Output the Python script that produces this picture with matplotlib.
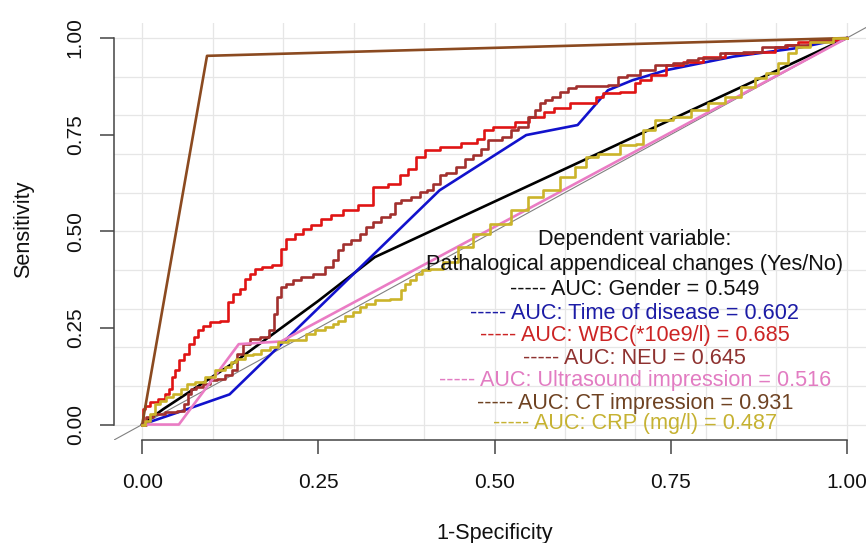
import matplotlib
matplotlib.use('Agg')
import matplotlib.pyplot as plt
import numpy as np

plt.rcParams['font.family'] = ['Liberation Sans', 'DejaVu Sans']

# ROC curves (1-specificity, sensitivity)
gender_fpr = [0, 0.03, 0.13, 0.25, 0.33, 1.0]
gender_tpr = [0, 0.04, 0.16, 0.32, 0.433, 1.0]

time_fpr = [0, 0.058, 0.124, 0.422, 0.545, 0.618, 0.661, 0.696, 0.744, 0.839, 0.929, 1.0]
time_tpr = [0, 0.036, 0.078, 0.606, 0.749, 0.775, 0.865, 0.891, 0.917, 0.952, 0.974, 1.0]

wbc_fpr = [0, 0.001, 0.008, 0.015, 0.030, 0.034, 0.041, 0.044, 0.049, 0.056,
           0.063, 0.070, 0.077, 0.082, 0.091, 0.101, 0.119, 0.124, 0.134, 0.143,
           0.150, 0.157, 0.164, 0.176, 0.193, 0.200, 0.209, 0.224, 0.233, 0.247,
           0.261, 0.276, 0.295, 0.318, 0.337, 0.361, 0.370, 0.384, 0.394, 0.408,
           0.436, 0.470, 0.481, 0.489, 0.507, 0.526, 0.533, 0.564, 0.576, 0.593,
           0.621, 0.638, 0.649, 0.659, 0.697, 0.701, 0.713, 0.730, 0.758, 0.777,
           0.815, 0.839, 0.895, 0.900, 0.929, 0.933, 0.976, 1.0]
wbc_tpr = [0, 0.040, 0.049, 0.058, 0.067, 0.079, 0.092, 0.123, 0.140, 0.166,
           0.183, 0.209, 0.226, 0.244, 0.256, 0.265, 0.269, 0.317, 0.339, 0.351,
           0.377, 0.390, 0.403, 0.408, 0.412, 0.455, 0.481, 0.494, 0.507, 0.516,
           0.533, 0.541, 0.554, 0.567, 0.615, 0.623, 0.645, 0.662, 0.693, 0.710,
           0.718, 0.728, 0.740, 0.762, 0.770, 0.770, 0.783, 0.796, 0.809, 0.818,
           0.831, 0.831, 0.848, 0.857, 0.861, 0.883, 0.891, 0.904, 0.930, 0.939,
           0.952, 0.961, 0.965, 0.978, 0.982, 0.991, 0.995, 1.0]

neu_fpr = [0, 0.011, 0.020, 0.044, 0.056, 0.063, 0.067, 0.072, 0.082, 0.091,
           0.101, 0.110, 0.124, 0.131, 0.138, 0.148, 0.157, 0.176, 0.183, 0.190,
           0.193, 0.200, 0.209, 0.219, 0.233, 0.252, 0.266, 0.276, 0.280, 0.290,
           0.304, 0.313, 0.323, 0.332, 0.347, 0.356, 0.361, 0.375, 0.389, 0.399,
           0.408, 0.418, 0.427, 0.436, 0.455, 0.460, 0.479, 0.484, 0.498, 0.522,
           0.526, 0.541, 0.555, 0.559, 0.569, 0.574, 0.588, 0.597, 0.611, 0.621,
           0.649, 0.673, 0.678, 0.697, 0.716, 0.739, 0.768, 0.777, 0.801, 0.839,
           0.867, 0.891, 0.933, 0.962, 1.0]
neu_tpr = [0, 0.019, 0.028, 0.032, 0.036, 0.054, 0.079, 0.092, 0.097, 0.105,
           0.114, 0.118, 0.127, 0.140, 0.183, 0.209, 0.222, 0.226, 0.244, 0.287,
           0.330, 0.356, 0.364, 0.373, 0.382, 0.390, 0.408, 0.425, 0.451, 0.468,
           0.477, 0.494, 0.511, 0.524, 0.537, 0.546, 0.572, 0.580, 0.589, 0.602,
           0.606, 0.623, 0.645, 0.652, 0.667, 0.688, 0.697, 0.714, 0.736, 0.744,
           0.762, 0.770, 0.796, 0.813, 0.831, 0.839, 0.848, 0.861, 0.870, 0.876,
           0.876, 0.878, 0.900, 0.904, 0.917, 0.930, 0.935, 0.943, 0.948, 0.961,
           0.965, 0.978, 0.982, 0.995, 1.0]

us_fpr = [0, 0.052, 0.137, 0.197, 1.0]
us_tpr = [0, 0.0, 0.208, 0.215, 1.0]

ct_fpr = [0, 0.092, 1.0]
ct_tpr = [0, 0.954, 1.0]

crp_fpr = [0, 0.008, 0.015, 0.020, 0.030, 0.039, 0.049, 0.060, 0.067, 0.082,
           0.096, 0.110, 0.124, 0.129, 0.138, 0.153, 0.162, 0.176, 0.186, 0.200,
           0.214, 0.228, 0.238, 0.252, 0.266, 0.276, 0.280, 0.295, 0.304, 0.313,
           0.323, 0.337, 0.365, 0.370, 0.375, 0.384, 0.394, 0.399, 0.418, 0.436,
           0.460, 0.479, 0.507, 0.541, 0.555, 0.583, 0.602, 0.626, 0.635, 0.659,
           0.697, 0.706, 0.716, 0.739, 0.768, 0.791, 0.815, 0.839, 0.862, 0.877,
           0.895, 0.910, 0.924, 0.933, 0.962, 1.0]
crp_tpr = [0, 0.010, 0.028, 0.054, 0.062, 0.071, 0.079, 0.092, 0.105, 0.110,
           0.123, 0.140, 0.149, 0.162, 0.170, 0.179, 0.183, 0.192, 0.200, 0.213,
           0.218, 0.218, 0.235, 0.244, 0.252, 0.261, 0.269, 0.282, 0.291, 0.304,
           0.313, 0.321, 0.326, 0.347, 0.364, 0.373, 0.390, 0.399, 0.403, 0.420,
           0.460, 0.494, 0.520, 0.554, 0.589, 0.606, 0.641, 0.667, 0.692, 0.701,
           0.723, 0.727, 0.762, 0.788, 0.796, 0.813, 0.831, 0.848, 0.874, 0.896,
           0.909, 0.935, 0.961, 0.978, 0.991, 1.0]

names = ['Gender', 'Time of disease', 'WBC(*10e9/l)', 'NEU',
         'Ultrasound impression', 'CT impression', 'CRP (mg/l)']
aucs = [0.549, 0.602, 0.685, 0.645, 0.516, 0.931, 0.487]
curves = [(gender_fpr, gender_tpr), (time_fpr, time_tpr), (wbc_fpr, wbc_tpr),
          (neu_fpr, neu_tpr), (us_fpr, us_tpr), (ct_fpr, ct_tpr), (crp_fpr, crp_tpr)]
# the many-threshold curves are drawn as staircases
stepped = [False, False, True, True, False, False, True]

line_colors = ['#000000', '#1212cc', '#e01414', '#a2302e', '#ea7cc4', '#8b4a20', '#cbb42a']
text_colors = ['#111111', '#1c1ca6', '#cc2424', '#8e3230', '#e27cc2', '#6e4222', '#c6b232']

tick_vals = [0, 0.25, 0.5, 0.75, 1.0]
tick_labels = ['0.00', '0.25', '0.50', '0.75', '1.00']

W, H = 866, 543
fig = plt.figure(figsize=(W / 100, H / 100), dpi=100)
ax = fig.add_axes([114 / W, 103 / H, 761 / W, 417.4 / H])
ax.set_xlim(-0.04, 1.04)
ax.set_ylim(-0.04, 1.04)

# light grid every 0.1
for g in np.arange(0, 1.01, 0.1):
    ax.axvline(g, color='#e6e6e6', lw=0.9, zorder=0)
    ax.axhline(g, color='#e6e6e6', lw=0.9, zorder=0)

ax.axline((0, 0), (1, 1), color='#808080', lw=0.8, zorder=1)

for (fx, fy), c, st in zip(curves, line_colors, stepped):
    ax.plot(fx, fy, color=c, lw=1.9, zorder=2,
            drawstyle='steps-mid' if st else 'default')

# legend as centered text lines
legend_x = 0.699
legend_y = [0.479, 0.415, 0.350, 0.288, 0.231, 0.171, 0.114, 0.054, 0.003]
ax.text(legend_x, legend_y[0], 'Dependent variable:', ha='center', va='center',
        fontsize=15.6, color='#111111', zorder=3)
ax.text(legend_x, legend_y[1], 'Pathalogical appendiceal changes (Yes/No)',
        ha='center', va='center', fontsize=15.6, color='#111111', zorder=3)
for i, (n, a) in enumerate(zip(names, aucs)):
    ax.text(legend_x, legend_y[i + 2], '----- AUC: {} = {:.3f}'.format(n, a),
            ha='center', va='center', fontsize=15.6, color=text_colors[i], zorder=3)

# R style axes
for s in ['top', 'right']:
    ax.spines[s].set_visible(False)
for s in ['left', 'bottom']:
    ax.spines[s].set_bounds(0, 1)
    ax.spines[s].set_color('#444444')
    ax.spines[s].set_linewidth(1.1)

ax.set_xticks(tick_vals)
ax.set_xticklabels(tick_labels)
ax.set_yticks(tick_vals)
ax.set_yticklabels(tick_labels, rotation=90, va='center')
ax.tick_params(length=10, width=1.1, color='#444444', labelsize=15, labelcolor='#111111')
ax.tick_params(axis='x', pad=14)
ax.tick_params(axis='y', pad=11)

fig.text(494.7 / W, 1 - 538.5 / H, '1-Specificity', ha='center', va='baseline',
         fontsize=15.6, color='#111111')
fig.text(29.5 / W, 1 - 229 / H, 'Sensitivity', rotation=90, rotation_mode='anchor',
         ha='center', va='baseline', fontsize=15.6, color='#111111')

fig.savefig('out.png', dpi=100)
